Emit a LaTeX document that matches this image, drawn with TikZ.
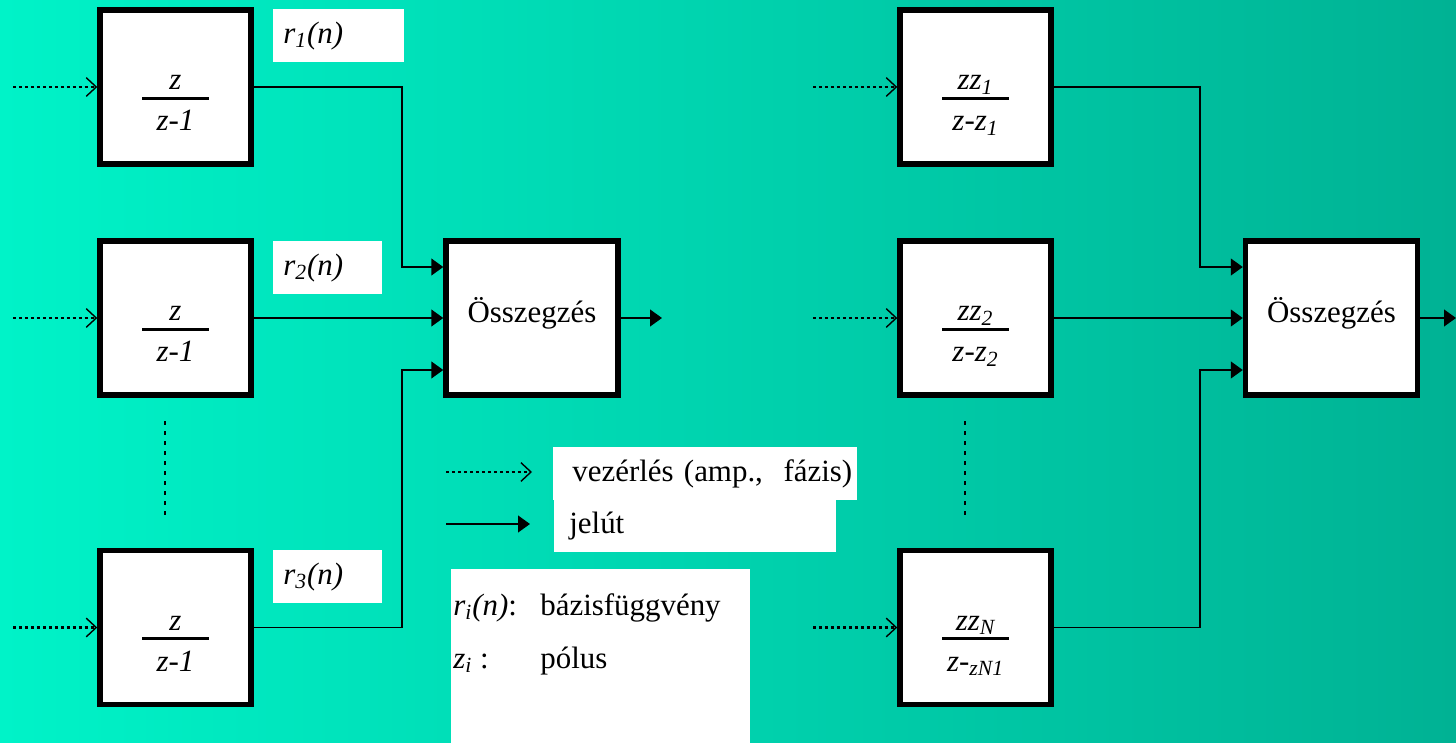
\documentclass[tikz,border=0pt]{standalone}
\usepackage{fontspec}
\setmainfont{Liberation Serif}
\usetikzlibrary{arrows.meta}
\definecolor{bgleft}{RGB}{0,243,200}
\definecolor{bgright}{RGB}{0,178,148}
% italic subscript and a stacked transfer-function fraction
\newcommand{\sbs}[1]{\textsubscript{\itshape #1}}
\newcommand{\ratio}[2]{%
	\vbox{\kern 18.5pt
		\hbox to 1.34cm{\hss\vrule height 12pt depth 0pt width 0pt\smash{\itshape #1}\hss}
		\kern 4pt\hrule height 1.6pt\kern 5.7pt
		\hbox to 1.34cm{\hss\vrule height 12pt depth 4pt width 0pt\smash{\itshape #2}\hss}}}
\tikzset{
	block/.style={draw=black, fill=white, line width=3.1pt, minimum width=3.02cm, minimum height=3.08cm, inner sep=0pt},
	sumblock/.style={block, minimum width=3.44cm, text depth=8.7pt},
	tag/.style={fill=white, anchor=north west, inner ysep=0pt, minimum height=1.06cm, align=left},
	sig/.style={line width=1.1pt, -{Triangle[length=6.8pt,width=9.5pt]}},
	ctrl/.style={line width=1.2pt, dash pattern=on 1.7pt off 1.7pt, -{Straight Barb[length=5.7pt,width=10.6pt,line width=0.8pt]}},
	dots/.style={line width=1.2pt, dash pattern=on 2.3pt off 3.4pt}
}

\begin{document}
\begin{tikzpicture}[x=0.02cm, y=-0.02cm, font=\fontsize{17.6}{21}\selectfont]
	\useasboundingbox (0,0) rectangle (1456,743);
	\shade[left color=bgleft, right color=bgright] (0,0) rectangle (1456,743);

	% left: z/(z-1) blocks feeding the summing block
	\node[block]	(b1) at (175.5,87)	{\ratio{z}{z-1}};
	\node[block]	(b2) at (175.5,318)	{\ratio{z}{z-1}};
	\node[block]	(b3) at (175.5,627.5)	{\ratio{z}{z-1}};
	\node[sumblock]	(s1) at (532,318)	{Összegzés};

	\node[tag, inner xsep=0.2cm, text width=2.22cm]	(r1) at (273,9)	{\itshape r\sbs{1}(n)};
	\node[tag, inner xsep=0.2cm, text width=1.78cm]	(r2) at (273,241)	{\itshape r\sbs{2}(n)};
	\node[tag, inner xsep=0.2cm, text width=1.78cm]	(r3) at (273,550)	{\itshape r\sbs{3}(n)};

	\coordinate (c1) at (13,87);
	\coordinate (c2) at (13,318);
	\coordinate (c3) at (13,627.5);
	\coordinate (j1) at (402,0);
	\coordinate (o1) at (662,318);

	\draw[ctrl]	(c1) to (b1.west);
	\draw[ctrl]	(c2) to (b2.west);
	\draw[ctrl]	(c3) to (b3.west);
	\draw[sig]	(b1.east) -- (b1.east -| j1) |- ([yshift=1.02cm]s1.west);
	\draw[sig]	(b2.east) to (s1.west);
	\draw[sig]	(b3.east) -- (b3.east -| j1) |- ([yshift=-1.04cm]s1.west);
	\draw[sig]	(s1.east) to (o1);

	\coordinate (v1a) at (165,421);
	\coordinate (v1b) at (165,518);
	\draw[dots]	(v1a) to (v1b);

	% right: pole blocks zz_i/(z-z_i)
	\node[block]	(p1) at (975.5,87)	{\ratio{zz\sbs{1}}{z-z\sbs{1}}};
	\node[block]	(p2) at (975.5,318)	{\ratio{zz\sbs{2}}{z-z\sbs{2}}};
	\node[block]	(pN) at (975.5,627.5)	{\ratio{zz\sbs{N}}{z-\sbs{zN1}}};
	\node[sumblock]	(s2) at (1331.5,318)	{Összegzés};

	\coordinate (d1) at (813,87);
	\coordinate (d2) at (813,318);
	\coordinate (dN) at (813,627.5);
	\coordinate (j2) at (1200,0);
	\coordinate (o2) at (1456,318);

	\draw[ctrl]	(d1) to (p1.west);
	\draw[ctrl]	(d2) to (p2.west);
	\draw[ctrl]	(dN) to (pN.west);
	\draw[sig]	(p1.east) -- (p1.east -| j2) |- ([yshift=1.02cm]s2.west);
	\draw[sig]	(p2.east) to (s2.west);
	\draw[sig]	(pN.east) -- (pN.east -| j2) |- ([yshift=-1.04cm]s2.west);
	\draw[sig]	(s2.east) to (o2);

	\coordinate (v2a) at (965,421);
	\coordinate (v2b) at (965,518);
	\draw[dots]	(v2a) to (v2b);

	% legend
	\coordinate (l1a) at (446,472);
	\coordinate (l1b) at (532,472);
	\coordinate (l2a) at (446,524);
	\coordinate (l2b) at (530,524);
	\draw[ctrl]	(l1a) to (l1b);
	\draw[sig]	(l2a) to (l2b);
	\node[tag, inner xsep=0.24cm, text width=5.6cm]	(g1) at (553,447)	{\hspace*{0.14cm}\mbox{vezérlés (amp.,~ fázis)}};
	\node[tag, inner xsep=0.3cm, text width=5.04cm, minimum height=1.04cm]	(g2) at (554,500)	{jelút};

	\node[fill=white, anchor=north west, inner sep=0pt, minimum width=5.98cm, minimum height=3.48cm]	(key) at (451,569) {};
	\node[anchor=base west, inner sep=0pt]	(k1) at (453,615)	{\itshape r\sbs{i}(n)\upshape:};
	\node[anchor=base west, inner sep=0pt]	(k1t) at (540,615)	{bázisfüggvény};
	\node[anchor=base west, inner sep=0pt]	(k2) at (453,668)	{\itshape z\sbs{i}\upshape~:};
	\node[anchor=base west, inner sep=0pt]	(k2t) at (540,668)	{pólus};
\end{tikzpicture}
\end{document}
